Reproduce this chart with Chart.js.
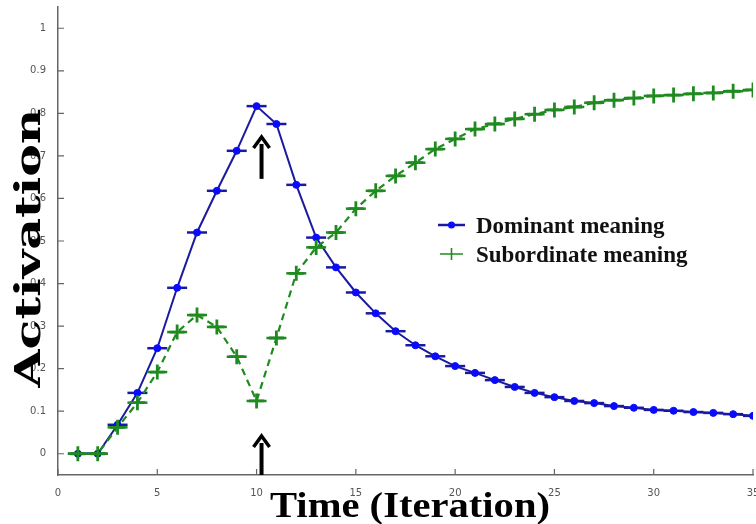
<!DOCTYPE html>
<html>
<head>
<meta charset="utf-8">
<script src="https://cdn.jsdelivr.net/npm/chart.js@4/dist/chart.umd.min.js"></script>
<style>
  html, body { margin: 0; padding: 0; background: #fff; }
  #wrap { width: 756px; height: 524px; }
</style>
</head>
<body>
<div id="wrap"><canvas id="chartCanvas" width="756" height="524"></canvas></div>
<script>
// iterations
const ITER = [1, 2, 3, 4, 5, 6, 7, 8, 9, 10, 11, 12, 13, 14, 15, 16, 17, 18,
  19, 20, 21, 22, 23, 24, 25, 26, 27, 28, 29, 30, 31, 32, 33, 34, 35];

// activation of the dominant meaning
const DOMINANT = [0, 0, 0.068, 0.143, 0.248, 0.39, 0.52, 0.618, 0.712, 0.817,
  0.775, 0.632, 0.508, 0.438, 0.379, 0.33, 0.288, 0.255, 0.229, 0.206, 0.19,
  0.173, 0.157, 0.143, 0.133, 0.124, 0.119, 0.112, 0.108, 0.103, 0.101, 0.098,
  0.096, 0.093, 0.089];

// activation of the subordinate meaning
const SUBORDINATE = [0, 0, 0.062, 0.12, 0.192, 0.286, 0.326, 0.298, 0.228,
  0.124, 0.272, 0.424, 0.485, 0.52, 0.576, 0.618, 0.653, 0.684, 0.716, 0.74,
  0.763, 0.775, 0.787, 0.798, 0.808, 0.815, 0.825, 0.831, 0.836, 0.841, 0.843,
  0.846, 0.848, 0.852, 0.855];

const X_TICKS = [0, 5, 10, 15, 20, 25, 30, 35];
const Y_TICKS = [0, 0.1, 0.2, 0.3, 0.4, 0.5, 0.6, 0.7, 0.8, 0.9, 1];
const LABELS = ['Dominant meaning', 'Subordinate meaning'];

// the two arrows pointing at iteration 10
const ARROWS = [
  { x: 10.25, from: 0.646, to: 0.747 },
  { x: 10.25, from: -0.05, to: 0.044 }
];

const BLUE = '#1a1a9e';
const BLUE_DOT = '#0a0aff';
const GREEN = '#1f8a1f';

const pts = (ys) => ITER.map((x, i) => ({ x: x, y: ys[i] }));

// inward ticks, arrows, axis titles and legend
const extras = {
  id: 'extras',
  afterDraw(chart) {
    const ctx = chart.ctx;
    const xs = chart.scales.x, ys = chart.scales.y;
    const area = chart.chartArea;
    ctx.save();

    // small tick marks pointing into the plot
    ctx.strokeStyle = '#666';
    ctx.lineWidth = 1.2;
    ctx.beginPath();
    X_TICKS.forEach(v => {
      const px = xs.getPixelForValue(v);
      ctx.moveTo(px, area.bottom);
      ctx.lineTo(px, area.bottom - 6);
    });
    Y_TICKS.forEach(v => {
      const py = ys.getPixelForValue(v);
      ctx.moveTo(area.left, py);
      ctx.lineTo(area.left + 6, py);
    });
    ctx.stroke();

    // arrows
    ctx.strokeStyle = '#000';
    ctx.fillStyle = '#000';
    ARROWS.forEach(a => {
      const px = xs.getPixelForValue(a.x);
      const y0 = ys.getPixelForValue(a.from);
      const y1 = ys.getPixelForValue(a.to);
      ctx.lineWidth = 4;
      ctx.beginPath();
      ctx.moveTo(px, y0);
      ctx.lineTo(px, y1 + 8);
      ctx.stroke();
      ctx.lineWidth = 3.5;
      ctx.lineJoin = 'miter';
      ctx.beginPath();
      ctx.moveTo(px - 8, y1 + 12);
      ctx.lineTo(px, y1 + 1);
      ctx.lineTo(px + 8, y1 + 12);
      ctx.stroke();
    });

    // axis titles
    ctx.fillStyle = '#000';
    ctx.textAlign = 'center';
    ctx.textBaseline = 'alphabetic';

    ctx.save();
    ctx.font = 'bold 36px "DejaVu Serif"';
    let w = ctx.measureText('Activation').width;
    ctx.translate(40, 248);
    ctx.rotate(-Math.PI / 2);
    ctx.scale(279 / w, 1);
    ctx.fillText('Activation', 0, 0);
    ctx.restore();

    ctx.save();
    ctx.font = 'bold 35px "Liberation Serif"';
    w = ctx.measureText('Time (Iteration)').width;
    ctx.translate(410, 517);
    ctx.scale(280 / w, 1);
    ctx.fillText('Time (Iteration)', 0, 0);
    ctx.restore();

    // legend
    ctx.textAlign = 'left';
    ctx.font = 'bold 23px "Liberation Serif"';
    const rows = [225, 254];
    rows.forEach((ry, i) => {
      ctx.lineWidth = 2.5;
      ctx.setLineDash([]);
      if (i === 0) {
        ctx.strokeStyle = BLUE;
        ctx.beginPath();
        ctx.moveTo(438, ry);
        ctx.lineTo(465, ry);
        ctx.stroke();
        ctx.fillStyle = BLUE_DOT;
        ctx.beginPath();
        ctx.arc(451.5, ry, 3.5, 0, Math.PI * 2);
        ctx.fill();
      } else {
        ctx.strokeStyle = GREEN;
        ctx.lineWidth = 1.6;
        ctx.beginPath();
        ctx.moveTo(440, ry);
        ctx.lineTo(447, ry);
        ctx.moveTo(456, ry);
        ctx.lineTo(463, ry);
        ctx.moveTo(451.5, ry - 6);
        ctx.lineTo(451.5, ry + 6);
        ctx.moveTo(447, ry);
        ctx.lineTo(456, ry);
        ctx.stroke();
      }
      ctx.fillStyle = '#111';
      ctx.fillText(LABELS[i], 476, ry + 8);
    });

    ctx.restore();
  }
};

const ctx = document.getElementById('chartCanvas').getContext('2d');
const myChart = new Chart(ctx, {
  type: 'line',
  data: {
    datasets: [
      {
        label: LABELS[1],
        data: pts(SUBORDINATE),
        borderColor: GREEN,
        borderWidth: 2.2,
        borderDash: [7, 5],
        pointStyle: 'cross',
        pointRadius: 7.5,
        pointBorderWidth: 2.8,
        pointBorderColor: GREEN,
        tension: 0,
        order: 0
      },
      {
        label: 'sub bars',
        data: pts(SUBORDINATE),
        showLine: false,
        pointStyle: 'line',
        pointRadius: 10,
        pointBorderWidth: 2.5,
        pointBorderColor: GREEN,
        order: 1
      },
      {
        label: LABELS[0],
        data: pts(DOMINANT),
        borderColor: BLUE,
        borderWidth: 2,
        pointStyle: 'circle',
        pointRadius: 3.5,
        pointBackgroundColor: BLUE_DOT,
        pointBorderColor: BLUE_DOT,
        pointBorderWidth: 1,
        tension: 0,
        order: 2
      },
      {
        label: 'dom bars',
        data: pts(DOMINANT),
        showLine: false,
        pointStyle: 'line',
        pointRadius: 10,
        pointBorderWidth: 2.5,
        pointBorderColor: BLUE,
        order: 3
      }
    ]
  },
  options: {
    responsive: false,
    animation: false,
    events: [],
    layout: { autoPadding: false, padding: { top: 7, right: 3 } },
    plugins: {
      legend: { display: false },
      tooltip: { enabled: false }
    },
    scales: {
      x: {
        type: 'linear',
        min: 0,
        max: 35,
        afterBuildTicks: (s) => { s.ticks = X_TICKS.map(v => ({ value: v })); },
        afterFit: (s) => { s.height = 49; s.paddingLeft = 0; s.paddingRight = 0; },
        ticks: { color: '#555', font: { size: 10, family: 'DejaVu Sans' }, padding: 4, maxRotation: 0 },
        grid: { display: false },
        border: { display: true, color: '#666', width: 1.5 }
      },
      y: {
        min: -0.05,
        max: 1.05,
        afterBuildTicks: (s) => { s.ticks = Y_TICKS.map(v => ({ value: v })); },
        afterFit: (s) => { s.width = 58; s.paddingTop = 0; s.paddingBottom = 0; },
        ticks: {
          color: '#555',
          font: { size: 10, family: 'DejaVu Sans' },
          padding: 4,
          callback: (v) => String(Math.round(v * 10) / 10)
        },
        grid: { display: false },
        border: { display: true, color: '#666', width: 1.5 }
      }
    }
  },
  plugins: [extras]
});
</script>
</body>
</html>
